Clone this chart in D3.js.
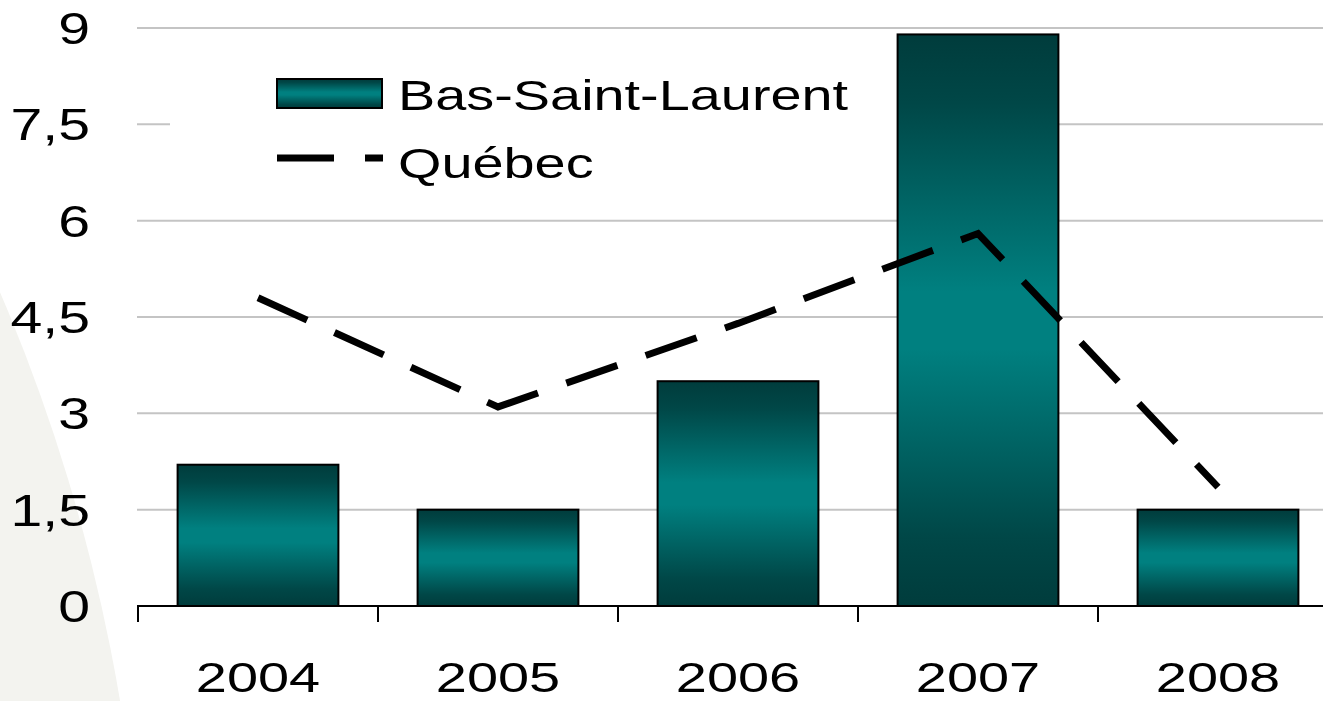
<!DOCTYPE html>
<html>
<head>
<meta charset="utf-8">
<script src="https://cdn.jsdelivr.net/npm/d3@7"></script>
<style>
  body { margin: 0; background: #fff; }
  text { font-family: "Liberation Sans", Arial, sans-serif; fill: #000; }
</style>
</head>
<body>
<div id="chart"></div>
<script>
// data
var years = ["2004", "2005", "2006", "2007", "2008"];
var basSaintLaurent = [2.2, 1.5, 3.5, 8.9, 1.5];
var quebec = [4.8, 3.1, 4.4, 5.8, 1.85];
var yTicks = [0, 1.5, 3, 4.5, 6, 7.5, 9];
var seriesNames = ["Bas-Saint-Laurent", "Québec"];

var W = 1323, H = 701;
var stretch = 1.3; // text in the original is wider than plain Arial

var svg = d3.select("#chart").append("svg")
    .attr("width", W)
    .attr("height", H);

// faint slide background shape on the left
svg.append("circle")
    .attr("cx", -1650).attr("cy", 999).attr("r", 1795)
    .style("fill", "#f3f3ef");

var defs = svg.append("defs");
var grad = defs.append("linearGradient")
    .attr("id", "barGrad")
    .attr("x1", 0).attr("y1", 0).attr("x2", 0).attr("y2", 1);
grad.append("stop").attr("offset", "0%").attr("stop-color", "#003c3c");
grad.append("stop").attr("offset", "12%").attr("stop-color", "#004747");
grad.append("stop").attr("offset", "45%").attr("stop-color", "#008080");
grad.append("stop").attr("offset", "55%").attr("stop-color", "#008080");
grad.append("stop").attr("offset", "88%").attr("stop-color", "#004747");
grad.append("stop").attr("offset", "100%").attr("stop-color", "#003c3c");

var x = d3.scaleBand()
    .domain(years)
    .range([138, 1338])
    .paddingInner(0.33)
    .paddingOuter(0.165);

var y = d3.scaleLinear().domain([0, 9]).range([606, 28]);

// gridlines
svg.selectAll(".grid")
    .data(yTicks.filter(function(d) { return d > 0; }))
    .enter().append("line")
    .attr("x1", 137).attr("x2", W)
    .attr("y1", function(d) { return y(d); })
    .attr("y2", function(d) { return y(d); })
    .style("stroke", "#c4c4c4")
    .style("stroke-width", 2);

// y labels
var fmt = function(d) { return String(d).replace(".", ","); };
svg.selectAll(".ylab")
    .data(yTicks)
    .enter().append("text")
    .attr("transform", function(d) { return "translate(90," + y(d) + ") scale(" + stretch + ",1)"; })
    .attr("dy", "0.36em")
    .attr("text-anchor", "end")
    .style("font-size", "44px")
    .text(fmt);

// legend box (white, covers the gridline behind it)
svg.append("rect")
    .attr("x", 170).attr("y", 50).attr("width", 730).attr("height", 150)
    .style("fill", "#fff");

// bars
svg.selectAll(".bar")
    .data(basSaintLaurent)
    .enter().append("rect")
    .attr("x", function(d, i) { return x(years[i]); })
    .attr("width", x.bandwidth())
    .attr("y", function(d) { return y(d); })
    .attr("height", function(d) { return y(0) - y(d); })
    .style("fill", "url(#barGrad)")
    .style("stroke", "#000")
    .style("stroke-width", 2);

// x axis
var xAxis = svg.append("g");
xAxis.append("line")
    .attr("x1", 137).attr("x2", W)
    .attr("y1", y(0)).attr("y2", y(0))
    .style("stroke", "#000").style("stroke-width", 2);
xAxis.selectAll(".tick")
    .data(years)
    .enter().append("line")
    .attr("x1", function(d) { return x(d) - x.step() * x.paddingInner() / 2; })
    .attr("x2", function(d) { return x(d) - x.step() * x.paddingInner() / 2; })
    .attr("y1", y(0)).attr("y2", y(0) + 16)
    .style("stroke", "#000").style("stroke-width", 2);
xAxis.selectAll(".xlab")
    .data(years)
    .enter().append("text")
    .attr("transform", function(d) { return "translate(" + (x(d) + x.bandwidth() / 2) + ",692) scale(" + stretch + ",1)"; })
    .attr("text-anchor", "middle")
    .style("font-size", "43px")
    .text(function(d) { return d; });

// Québec dashed line
var line = d3.line()
    .x(function(d, i) { return x(years[i]) + x.bandwidth() / 2; })
    .y(function(d) { return y(d); });

svg.append("path")
    .datum(quebec)
    .attr("d", line)
    .style("fill", "none")
    .style("stroke", "#000")
    .style("stroke-width", 7)
    .style("stroke-dasharray", "54,30");

// legend
svg.append("rect")
    .attr("x", 277).attr("y", 79).attr("width", 105).attr("height", 29)
    .style("fill", "url(#barGrad)")
    .style("stroke", "#000")
    .style("stroke-width", 2);
svg.append("line")
    .attr("x1", 277).attr("x2", 383)
    .attr("y1", 158).attr("y2", 158)
    .style("stroke", "#000")
    .style("stroke-width", 7)
    .style("stroke-dasharray", "57,31");
svg.selectAll(".legtext")
    .data(seriesNames)
    .enter().append("text")
    .attr("transform", function(d, i) { return "translate(398," + (i === 0 ? 110 : 178) + ") scale(1.33,1)"; })
    .style("font-size", "42px")
    .text(function(d) { return d; });
</script>
</body>
</html>
